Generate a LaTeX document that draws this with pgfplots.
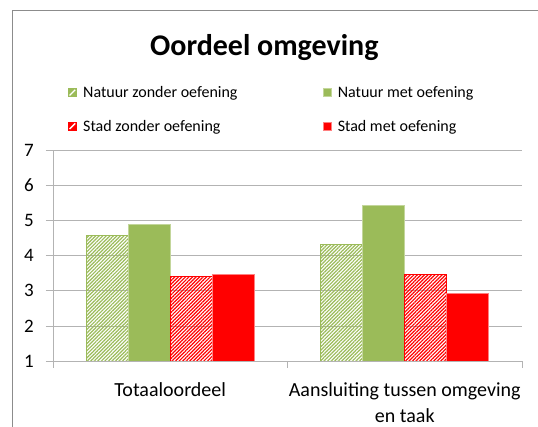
\documentclass[border=0pt]{standalone}
\usepackage{fontspec}
\setmainfont{Carlito}
\usepackage{pgfplots}
\pgfplotsset{compat=1.18}
\usetikzlibrary{patterns.meta}
\definecolor{ngreen}{HTML}{9BBB59}
\definecolor{nred}{HTML}{FF0000}
\definecolor{gridc}{HTML}{B3B3B3}
\definecolor{framec}{HTML}{8C8C8C}
\pgfplotsset{
  sqlegend/.style={legend image code/.code={\draw[##1,line width=0.6pt] (0pt,-4pt) rectangle (8pt,4pt);}},
  hatchlegend/.style={legend image code/.code={\fill[#1] (0pt,-4pt) rectangle (8pt,4pt);
     \draw[white, line width=1.3pt] (1.2pt,-2.8pt) -- (6.8pt,2.8pt);}},
}
\begin{document}
\begin{tikzpicture}[x=1pt,y=1pt]
\useasboundingbox (0,0) rectangle (538,427);
\clip (0,0) rectangle (538,427);
\fill[white] (0,0) rectangle (538,427);
\draw[framec, line width=1pt] (12.5,-20) -- (12.5,416.5) -- (560,416.5);
\node[anchor=base, inner sep=0pt, font=\fontsize{30}{36}\selectfont\bfseries] at (264.3,371.7) {Oordeel omgeving};
\begin{axis}[
  at={(53pt,66pt)}, anchor=south west,
  scale only axis, width=469pt, height=210.5pt,
  xmin=-0.5, xmax=1.5, ymin=1, ymax=7,
  axis x line*=bottom, axis y line*=left,
  axis line style={gridc, line width=0.8pt},
  ymajorgrids, grid style={gridc, line width=0.8pt},
  ytick={1,...,7},
  tick align=outside, major tick length=7pt,
  tick style={gridc, line width=0.8pt},
  xtick={-0.5,0.5,1.5}, xticklabels={},
  extra x ticks={0,1},
  extra x tick labels={Totaaloordeel, {Aansluiting tussen omgeving\\[3pt]en taak}},
  extra x tick style={major tick length=0pt, grid=none,
    xticklabel style={font=\fontsize{20}{23}\selectfont, align=center, anchor=north, inner sep=0pt, yshift=-21pt}},
  /pgf/number format/assume math mode=true,
  yticklabel style={font=\fontsize{19}{22}\selectfont, anchor=east, inner sep=0pt, xshift=-12pt},
  clip=true,
  legend columns=2,
  legend style={at={(0.032,1.305)}, anchor=north west, draw=none, fill=none,
    inner sep=0pt, outer sep=0pt, row sep=21pt,
    font=\fontsize{16}{19}\selectfont,
    nodes={inner sep=0pt},
    /tikz/every odd column/.append style={column sep=6.4pt}},
  legend cell align=left,
]
\addplot[ybar, bar width=42pt, bar shift=-63pt, draw=ngreen, line width=0.8pt,
  pattern={Lines[angle=45,distance=2.5pt,line width=1.2pt]}, pattern color=ngreen, hatchlegend=ngreen]
  coordinates {(0,4.58) (1,4.31)};
\addlegendentry{\makebox[239.6pt][l]{Natuur zonder oefening}}
\addplot[ybar, bar width=42pt, bar shift=-21pt, fill=ngreen, draw=ngreen!60, line width=0.8pt, sqlegend]
  coordinates {(0,4.89) (1,5.44)};
\addlegendentry{Natuur met oefening}
\addplot[ybar, bar width=42pt, bar shift=21pt, draw=nred, line width=0.8pt,
  pattern={Lines[angle=45,distance=2.5pt,line width=1.2pt]}, pattern color=nred, hatchlegend=nred]
  coordinates {(0,3.42) (1,3.47)};
\addlegendentry{\makebox[239.6pt][l]{Stad zonder oefening}}
\addplot[ybar, bar width=42pt, bar shift=63pt, fill=nred, draw=nred!50, line width=0.8pt, sqlegend]
  coordinates {(0,3.46) (1,2.93)};
\addlegendentry{Stad met oefening}
\end{axis}
\end{tikzpicture}
\end{document}
